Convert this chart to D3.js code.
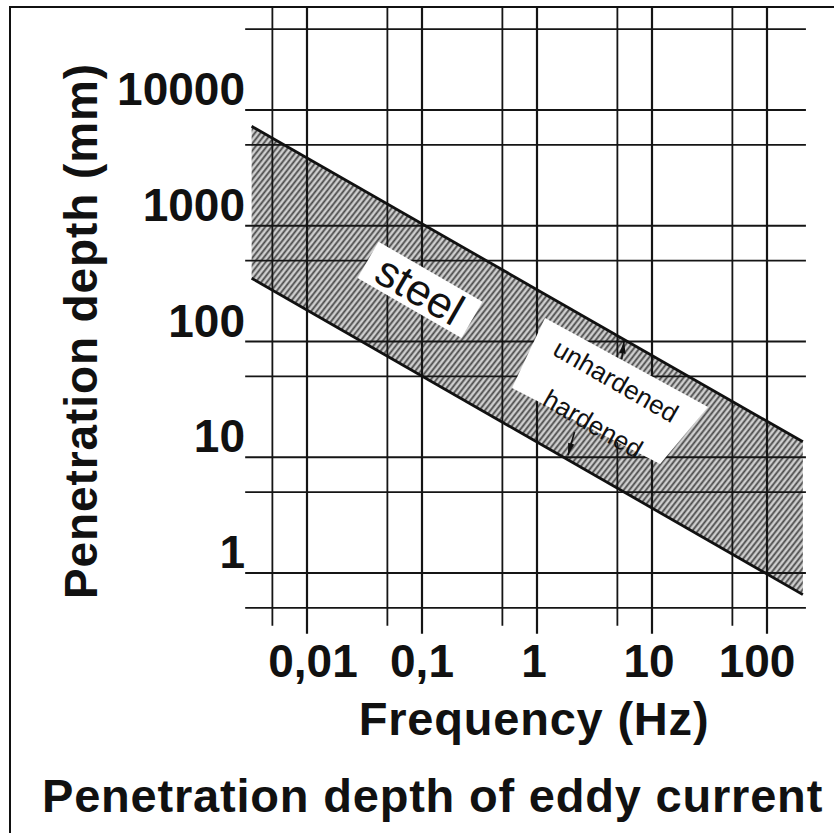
<!DOCTYPE html>
<html>
<head>
<meta charset="utf-8">
<script src="https://cdn.jsdelivr.net/npm/d3@7"></script>
<style>
  html, body { margin: 0; padding: 0; background: #fff; }
  svg { display: block; }
  text { font-family: "Liberation Sans", Arial, Helvetica, sans-serif; fill: #111; }
</style>
</head>
<body>
<svg id="chart" width="834" height="833"></svg>
<script>
// ---------------- data ----------------
const xGridValues = [0.005, 0.01, 0.05, 0.1, 0.5, 1, 5, 10, 50, 100];
const xMajorValues = [0.01, 0.1, 1, 10, 100];
const xTickLabels = ["0,01", "0,1", "1", "10", "100"];
const yGridValues = [0.5, 1, 5, 10, 50, 100, 500, 1000, 5000, 10000, 50000];
const yMajorValues = [1, 10, 100, 1000, 10000];
const yTickLabels = ["1", "10", "100", "1000", "10000"];
const gridExtentFreq = [0.0029, 218];
// band of penetration depth for steel (frequency Hz, depth mm)
const bandFreq = [0.0033, 205];
const upperDepth = [7230, 13.6];   // unhardened steel
const lowerDepth = [352, 0.65];    // hardened steel
// annotations (frequency, depth)
const steelLabel = {f: 0.0961, d: 279, text: "steel"};
const hardBoxFreq = [1.174, 30.7, 11.74, 0.606];
const hardBoxDepth = [159.6, 27.2, 8.75, 39.7];
const unhardenedLabel = {f: 4.86, d: 45.6, text: "unhardened"};
const hardenedLabel = {f: 3.07, d: 19.4, text: "hardened"};
const unhardenedArrow = {from: [5.45, 70], to: [5.71, 100]};
const hardenedArrow = {from: [2.12, 16.5], to: [1.86, 10.4]};
const titleText = "Penetration depth of eddy current";
const xTitle = "Frequency (Hz)";
const yTitle = "Penetration depth (mm)";

// ---------------- scales ----------------
const x = d3.scaleLog().domain([0.01, 100]).range([307, 767]);
const y = d3.scaleLog().domain([1, 10000]).range([573, 110]);

const svg = d3.select("#chart");
const angle = 30; // visual slope of the band labels, degrees
const xLabelNudge = [6, 0, -3, -3, -10]; // small hand-lettering offsets (px)

// frame
svg.append("rect").attr("x", 10).attr("y", 7).attr("width", 840).attr("height", 840)
  .attr("fill", "none").attr("stroke", "#111").attr("stroke-width", 2);

// hatch pattern
const defs = svg.append("defs");
const pat = defs.append("pattern").attr("id", "hatch").attr("patternUnits", "userSpaceOnUse")
  .attr("width", 4.4).attr("height", 10).attr("patternTransform", "rotate(38)");
pat.append("rect").attr("width", 4.4).attr("height", 10).attr("fill", "#cfcfcf");
pat.append("line").attr("x1", 1.2).attr("x2", 1.2).attr("y1", 0).attr("y2", 10)
  .attr("stroke", "#4a4a4a").attr("stroke-width", 1.8);

// band
const bandPts = [
  [bandFreq[0], upperDepth[0]], [bandFreq[1], upperDepth[1]],
  [bandFreq[1], lowerDepth[1]], [bandFreq[0], lowerDepth[0]]
];
svg.append("path")
  .attr("d", d3.line().x(p => x(p[0])).y(p => y(p[1]))(bandPts) + "Z")
  .attr("fill", "url(#hatch)");

// grid
const gridG = svg.append("g").attr("stroke", "#151515").attr("stroke-width", 1.8);
const yBottom = y(d3.min(yGridValues));
gridG.selectAll("line.h").data(yGridValues).join("line")
  .attr("x1", x(gridExtentFreq[0])).attr("x2", x(gridExtentFreq[1]))
  .attr("y1", d => y(d)).attr("y2", d => y(d));
gridG.selectAll("line.v").data(xGridValues).join("line")
  .attr("x1", d => x(d)).attr("x2", d => x(d))
  .attr("y1", 8)
  .attr("y2", d => yBottom + (xMajorValues.includes(d) ? 26 : 18))
  .attr("stroke-width", d => xMajorValues.includes(d) ? 2.2 : 1.8);

// band edges
const edgeLine = d3.line().x(p => x(p[0])).y(p => y(p[1]));
svg.append("path").attr("d", edgeLine([[bandFreq[0], upperDepth[0]], [bandFreq[1], upperDepth[1]]]))
  .attr("stroke", "#111").attr("stroke-width", 2.8).attr("fill", "none");
svg.append("path").attr("d", edgeLine([[bandFreq[0], lowerDepth[0]], [bandFreq[1], lowerDepth[1]]]))
  .attr("stroke", "#111").attr("stroke-width", 2.8).attr("fill", "none");

// white label boxes
svg.append("rect").attr("x", -60).attr("y", -21).attr("width", 120).attr("height", 42)
  .attr("fill", "#fff")
  .attr("transform", `translate(${x(steelLabel.f)},${y(steelLabel.d)}) rotate(${angle})`);
svg.append("path")
  .attr("d", d3.line().x(p => x(p[0])).y(p => y(p[1]))(d3.zip(hardBoxFreq, hardBoxDepth)) + "Z")
  .attr("fill", "#fff");

// labels
function rotLabel(lab, size) {
  svg.append("text").text(lab.text)
    .attr("transform", `translate(${x(lab.f)},${y(lab.d)}) rotate(${angle})`)
    .attr("text-anchor", "middle").attr("dominant-baseline", "central")
    .attr("font-size", size);
}
rotLabel(steelLabel, 44);
rotLabel(unhardenedLabel, 26);
rotLabel(hardenedLabel, 26);

// arrows (black wedges pointing to the boundary lines)
function arrow(a) {
  const x1 = x(a.from[0]), y1 = y(a.from[1]), x2 = x(a.to[0]), y2 = y(a.to[1]);
  const ang = Math.atan2(y2 - y1, x2 - x1);
  const W = 3.2;
  const px = -Math.sin(ang) * W, py = Math.cos(ang) * W;
  svg.append("line").attr("x1", x1).attr("y1", y1).attr("x2", x2).attr("y2", y2)
    .attr("stroke", "#111").attr("stroke-width", 1.6);
  const bx = x2 - 12 * Math.cos(ang), by = y2 - 12 * Math.sin(ang);
  svg.append("path").attr("d", `M${x2},${y2}L${bx + px},${by + py}L${bx - px},${by - py}Z`)
    .attr("fill", "#111");
}
arrow(unhardenedArrow);
arrow(hardenedArrow);

// y tick labels
svg.selectAll("text.ytick").data(yMajorValues).join("text")
  .attr("class", "ytick")
  .attr("x", 245).attr("y", d => y(d) - 5)
  .attr("text-anchor", "end").attr("font-weight", "bold").attr("font-size", 46)
  .text((d, i) => yTickLabels[i]);

// x tick labels
svg.selectAll("text.xtick").data(xMajorValues).join("text")
  .attr("class", "xtick")
  .attr("x", (d, i) => x(d) + xLabelNudge[i]).attr("y", 677)
  .attr("text-anchor", "middle").attr("font-weight", "bold").attr("font-size", 46)
  .text((d, i) => xTickLabels[i]);

// axis titles
svg.append("text").text(xTitle)
  .attr("x", 534).attr("y", 735).attr("text-anchor", "middle")
  .attr("font-weight", "bold").attr("font-size", 47).attr("letter-spacing", 0.8);
svg.append("text").text(yTitle)
  .attr("transform", "translate(97,331) rotate(-90)").attr("text-anchor", "middle")
  .attr("font-weight", "bold").attr("font-size", 46).attr("letter-spacing", 0.9);
svg.append("text").text(titleText)
  .attr("x", 42).attr("y", 812).attr("text-anchor", "start")
  .attr("font-weight", "bold").attr("font-size", 47).attr("letter-spacing", 0.8);
</script>
</body>
</html>
